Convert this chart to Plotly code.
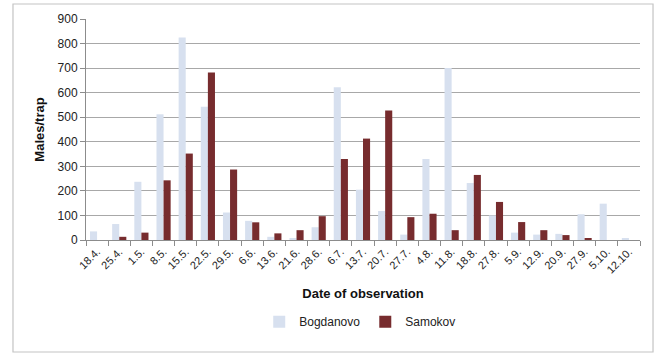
import plotly.graph_objects as go

dates = ["18.4.", "25.4.", "1.5.", "8.5.", "15.5.", "22.5.", "29.5.", "6.6.", "13.6.",
         "21.6.", "28.6.", "6.7.", "13.7.", "20.7.", "27.7.", "4.8.", "11.8.", "18.8.",
         "27.8.", "5.9.", "12.9.", "20.9.", "27.9.", "5.10.", "12.10."]
bogdanovo = [35, 65, 237, 512, 825, 543, 112, 78, 13, 5, 52, 622, 205, 118, 22, 330,
             700, 232, 100, 30, 22, 25, 105, 148, 5]
samokov = [0, 13, 30, 243, 352, 682, 287, 72, 27, 40, 97, 330, 413, 527, 93, 107,
           40, 265, 155, 73, 40, 20, 8, 0, 0]

FONT = "Liberation Sans, Arial, sans-serif"

fig = go.Figure()
fig.add_trace(go.Bar(x=dates, y=bogdanovo, name="Bogdanovo",
                     marker=dict(color="#D7E0EF", line=dict(width=0))))
fig.add_trace(go.Bar(x=dates, y=samokov, name="Samokov",
                     marker=dict(color="#772C2E", line=dict(width=0))))

fig.update_layout(
    width=657, height=354,
    margin=dict(l=86, r=17, t=19, b=114),
    paper_bgcolor="white", plot_bgcolor="white",
    barmode="group", bargap=0.36, bargroupgap=0,
    font=dict(family=FONT, color="#222222"),
    showlegend=True,
    legend=dict(orientation="h", x=0.495, xanchor="center", y=-0.37, yanchor="middle",
                font=dict(size=12, color="#222222"), itemwidth=30,
                traceorder="normal"),
    shapes=[dict(type="rect", xref="paper", yref="paper",
                 x0=-0.1318, x1=1.0235, y0=-0.5068, y1=1.0679,
                 line=dict(color="#C4C4C4", width=1.2), layer="below")],
)

fig.update_xaxes(
    type="category", tickangle=-45, tickfont=dict(size=11, color="#222222"),
    showline=True, linecolor="#8C8C8C", linewidth=1,
    ticks="outside", tickson="boundaries", ticklen=5, tickcolor="#8C8C8C",
    showgrid=False,
    title=dict(text="<b>Date of observation</b>", font=dict(size=13, color="#111111"),
               standoff=14),
)
fig.update_yaxes(
    range=[0, 900], dtick=100, tickfont=dict(size=12, color="#222222"),
    showline=True, linecolor="#8C8C8C", linewidth=1,
    ticks="outside", ticklen=5, tickcolor="#8C8C8C",
    showgrid=True, gridcolor="#A8A8A8", gridwidth=1,
    zeroline=False,
    title=dict(text="<b>Males/trap</b>", font=dict(size=13, color="#111111"),
               standoff=10),
)

fig.write_html("out.html")
